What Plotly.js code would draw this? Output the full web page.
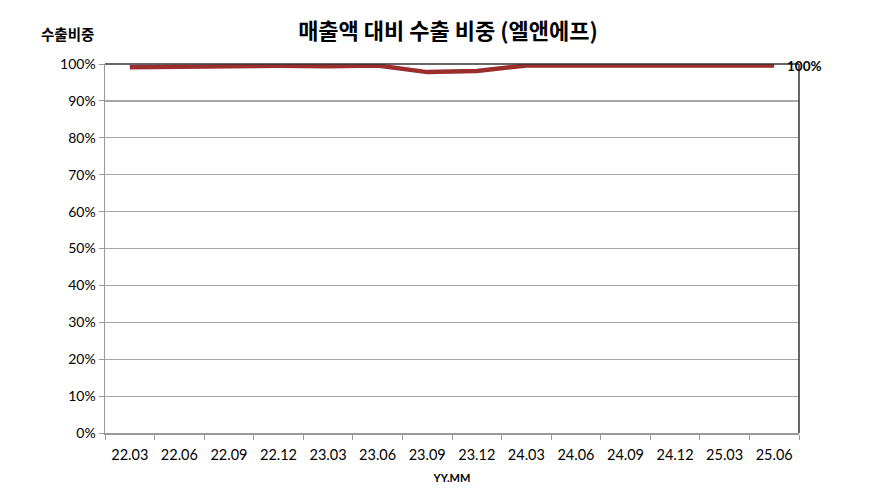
<!DOCTYPE html>
<html>
<head>
<meta charset="utf-8">
<script src="https://cdn.plot.ly/plotly-3.0.1.min.js"></script>
<style>
  body { margin: 0; background: #fff; }
  #chart { width: 896px; height: 500px; }
</style>
</head>
<body>
<div id="chart"></div>
<script>
// 분기별 수출 비중 (%)
const quarters = ['22.03', '22.06', '22.09', '22.12', '23.03', '23.06', '23.09',
                  '23.12', '24.03', '24.06', '24.09', '24.12', '25.03', '25.06'];
const exportShare = [99.1, 99.3, 99.5, 99.5, 99.4, 99.6, 97.8,
                     98.1, 99.6, 99.6, 99.6, 99.6, 99.6, 99.6];
const yTicks = [0, 10, 20, 30, 40, 50, 60, 70, 80, 90, 100];

const font = 'Lato, "Noto Sans CJK KR", sans-serif';
const lastIdx = quarters.length - 1;

const trace = {
    x: quarters,
    y: exportShare,
    type: 'scatter',
    mode: 'lines',
    line: { color: '#9b2d2d', width: 4.5 },
    hoverinfo: 'x+y'
};

const layout = {
    width: 896,
    height: 500,
    margin: { l: 105, r: 97, t: 63.5, b: 67 },
    paper_bgcolor: '#fff',
    plot_bgcolor: '#fff',
    showlegend: false,
    font: { family: font, size: 14, color: '#000' },
    title: {
        text: '<b>매출액 대비 수출 비중 (엘앤에프)</b>',
        font: { family: '"Noto Sans CJK KR", sans-serif', size: 22, color: '#000' },
        x: 0.5, xanchor: 'center', y: 0.937, yanchor: 'middle'
    },
    xaxis: {
        type: 'category',
        range: [-0.5, lastIdx + 0.5],
        showgrid: false,
        showline: true,
        linecolor: '#999',
        linewidth: 1.5,
        ticks: 'outside',
        tickson: 'boundaries',
        ticklen: 5,
        tickcolor: '#999',
        tickangle: 0,
        ticklabelstandoff: 8,
        tickfont: { family: font, size: 14.5 },
        title: {
            text: '<b>YY.MM</b>',
            font: { family: font, size: 11 },
            standoff: 12
        },
        fixedrange: true
    },
    yaxis: {
        range: [0, 100],
        tickvals: yTicks,
        ticktext: yTicks.map(v => v + '%'),
        showgrid: true,
        gridcolor: '#a6a6a6',
        gridwidth: 1.2,
        zeroline: false,
        showline: true,
        linecolor: '#999',
        linewidth: 1.5,
        ticks: 'outside',
        ticklen: 5,
        tickcolor: '#999',
        tickfont: { family: font, size: 14 },
        fixedrange: true
    },
    shapes: [
        // 상단(100%) 선과 오른쪽 축선
        { type: 'line', xref: 'paper', yref: 'paper', x0: 0, x1: 1, y0: 1, y1: 1,
          line: { color: '#333', width: 1.5 } },
        { type: 'line', xref: 'paper', yref: 'paper', x0: 1, x1: 1, y0: 0, y1: 1,
          line: { color: '#333', width: 1.5 } }
    ],
    annotations: [
        {
            xref: 'paper', yref: 'paper', x: -0.054, y: 1.083,
            xanchor: 'center', yanchor: 'middle', showarrow: false,
            text: '<b>수출비중</b>',
            font: { family: '"Noto Sans CJK KR", sans-serif', size: 14.5, color: '#000' }
        },
        {
            x: lastIdx, y: exportShare[lastIdx],
            xanchor: 'left', yanchor: 'middle', xshift: 11, yshift: -1,
            showarrow: false,
            text: '<b>' + Math.round(exportShare[lastIdx]) + '%</b>',
            font: { family: font, size: 13.5, color: '#000' }
        }
    ]
};

Plotly.newPlot('chart', [trace], layout, { displayModeBar: false, staticPlot: true });
</script>
</body>
</html>
